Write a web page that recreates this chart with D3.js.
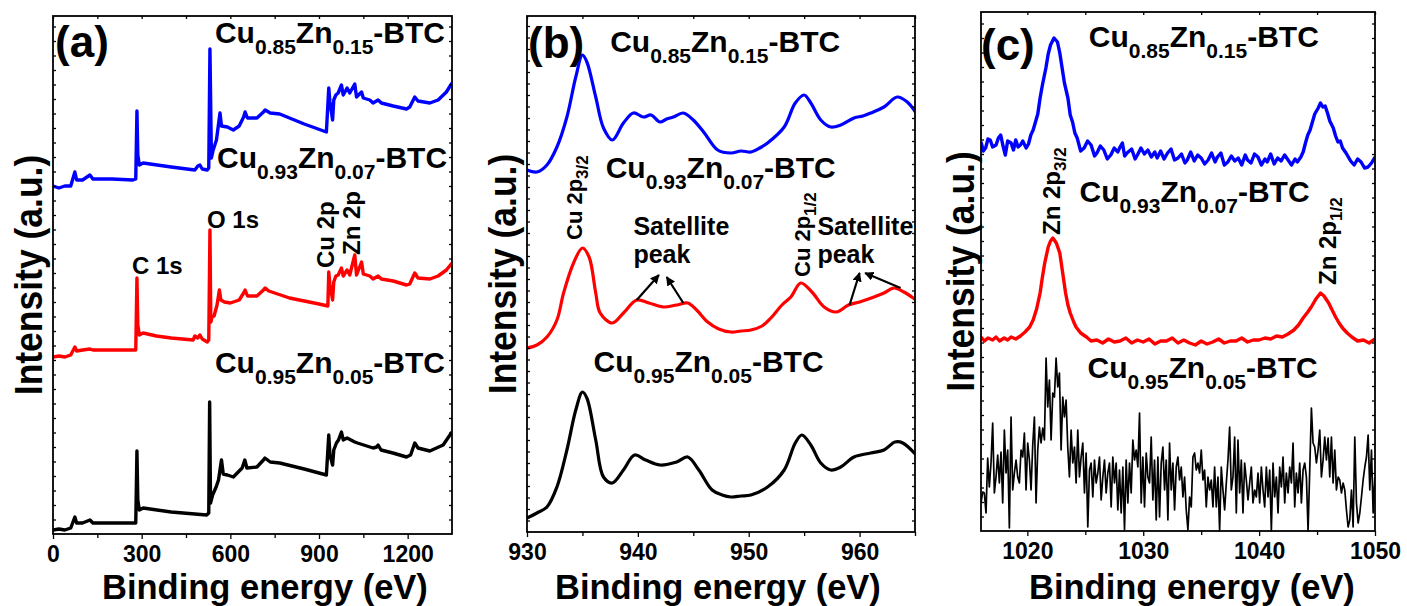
<!DOCTYPE html>
<html>
<head>
<meta charset="utf-8">
<script src="https://cdn.jsdelivr.net/npm/d3@7"></script>
<style>
  body { margin: 0; background: #fff; }
  svg text { font-family: "Liberation Sans", Arial, Helvetica, sans-serif; font-weight: bold; fill: #000; }
</style>
</head>
<body>
<svg id="fig" width="1407" height="606"></svg>
<script>
// ---------------- sample compositions ----------------
const cuFractions = ["0.85", "0.93", "0.95"];
const znFractions = ["0.15", "0.07", "0.05"];
const seriesColors = ["#0000ff", "#ff0000", "#000000"];

// ---------------- (a) survey spectra: [binding energy eV, intensity a.u.] ----------------
const surveyCu085 = [[0,348],[20,346],[40,348],[60,348],[74,362],[80,354],[100,354],[125,359],[135,355],[200,355],[270,354],[280,355],[284,423],[287,379],[292,369],[305,371],[400,367],[480,364],[490,368],[497,369],[505,365],[522,364],[527,366],[531,485],[536,376],[542,384],[553,394],[565,421],[570,408],[590,407],[610,404],[630,408],[645,417],[650,422],[658,416],[690,416],[712,422],[718,424],[735,421],[767,420],[850,410],[925,402],[933,446],[937,432],[946,414],[950,434],[957,439],[965,441],[976,449],[982,439],[995,446],[1004,441],[1021,450],[1027,437],[1044,442],[1050,436],[1072,434],[1083,431],[1100,434],[1111,431],[1151,428],[1196,425],[1207,427],[1224,437],[1235,433],[1275,431],[1303,434],[1331,442],[1350,451]];
const surveyCu093 = [[0,177],[20,178],[40,177],[60,179],[74,187],[80,183],[100,184],[125,185],[135,184],[200,184],[270,184],[280,184],[284,256],[287,209],[292,199],[305,201],[350,198],[400,196],[474,194],[480,198],[490,196],[497,199],[505,195],[522,192],[527,194],[531,304],[534,212],[538,217],[545,218],[555,229],[563,244],[568,234],[580,232],[600,231],[630,234],[645,241],[650,244],[658,238],[690,238],[712,244],[718,246],[730,243],[760,240],[800,236],[850,233],[900,230],[930,228],[933,262],[937,249],[946,234],[950,252],[957,258],[965,259],[976,266],[982,258],[995,264],[1004,259],[1021,279],[1027,259],[1044,272],[1050,260],[1072,258],[1083,255],[1100,258],[1111,255],[1151,253],[1196,249],[1207,250],[1224,261],[1235,256],[1275,255],[1303,258],[1331,264],[1350,271]];
const surveyCu095 = [[0,4],[20,5],[40,4],[60,6],[74,17],[80,11],[100,11],[125,14],[135,11],[200,11],[270,11],[280,11],[284,83],[287,34],[292,24],[305,26],[400,22],[480,20],[520,19],[527,21],[530,132],[533,31],[540,39],[552,47],[560,54],[570,74],[576,60],[590,59],[610,57],[640,66],[649,74],[656,66],[690,67],[712,74],[717,76],[735,72],[767,71],[850,65],[925,59],[933,99],[937,79],[946,69],[950,84],[959,91],[966,94],[976,102],[982,94],[995,96],[1021,92],[1030,91],[1083,86],[1095,87],[1100,89],[1110,84],[1150,81],[1196,77],[1210,79],[1224,91],[1235,86],[1275,83],[1320,89],[1350,102]];

// ---------------- (b) Cu 2p spectra ----------------
const cu2pCu085 = [[930.0,362],[930.9,360],[931.8,367],[932.7,385],[933.6,415],[934.4,455],[935.0,477],[935.4,470],[936.2,435],[936.9,404],[937.7,392],[938.7,409],[939.6,419],[940.5,415],[941.2,417],[942.0,410],[942.6,413],[943.2,415],[944.1,419],[945.0,412],[946.0,399],[947.2,382],[948.4,379],[949.3,381],[950.2,380],[951.0,384],[951.7,389],[953.2,405],[954.2,429],[955.0,437],[955.6,429],[956.5,412],[957.4,405],[958.3,407],[959.5,414],[960.3,416],[961.0,419],[962.2,425],[963.4,435],[964.3,430],[965.1,419]];
const cu2pCu093 = [[930.0,184],[930.9,187],[931.8,195],[932.7,212],[933.3,239],[934.2,269],[935.0,284],[935.6,275],[936.2,239],[936.6,219],[937.7,209],[938.7,219],[939.9,232],[941.0,229],[942.3,225],[943.5,227],[944.5,229],[945.3,222],[946.3,210],[947.3,203],[948.4,200],[949.3,201],[950.2,202],[951.2,206],[952.0,214],[953.0,227],[953.8,235],[954.7,249],[955.7,240],[956.8,225],[957.9,220],[959.0,227],[960.0,230],[961.3,235],[962.2,239],[963.1,244],[964.0,240],[965.1,232]];
const cu2pCu095 = [[930.0,14],[930.9,19],[931.8,25],[932.7,45],[933.6,82],[934.4,122],[935.0,140],[935.4,134],[936.2,92],[936.9,55],[937.7,49],[938.7,62],[939.7,77],[940.7,72],[942.0,67],[943.5,70],[944.5,75],[945.5,62],[946.7,42],[947.6,37],[948.4,35],[949.3,36],[950.2,37],[951.7,45],[953.2,62],[954.2,89],[954.8,97],[955.6,87],[956.5,69],[957.4,62],[958.3,65],[959.5,75],[961.0,79],[962.2,82],[963.2,90],[963.9,89],[965.1,77]];

// ---------------- (c) Zn 2p spectra ----------------
const zn2pCu085 = [[1016.0,389],[1016.2,380],[1016.4,383],[1016.6,392],[1016.8,391],[1017.0,384],[1017.3,386],[1017.5,393],[1017.7,396],[1017.9,385],[1018.1,376],[1018.3,390],[1018.6,388],[1018.8,381],[1019.0,391],[1019.2,384],[1019.4,386],[1019.6,390],[1019.9,383],[1020.1,387],[1020.3,396],[1020.5,401],[1020.7,409],[1020.9,417],[1021.1,433],[1021.3,446],[1021.6,463],[1021.8,477],[1022.0,486],[1022.3,493],[1022.6,489],[1022.8,478],[1023.0,463],[1023.2,448],[1023.5,433],[1023.7,416],[1023.9,409],[1024.1,398],[1024.3,393],[1024.6,380],[1024.9,383],[1025.2,390],[1025.5,386],[1025.8,375],[1026.0,378],[1026.3,385],[1026.6,381],[1026.9,372],[1027.2,376],[1027.5,383],[1027.8,379],[1028.0,384],[1028.2,388],[1028.4,375],[1028.6,378],[1029.0,382],[1029.3,372],[1029.5,376],[1029.8,383],[1030.1,377],[1030.4,381],[1030.7,374],[1031.0,379],[1031.2,373],[1031.5,380],[1031.8,372],[1032.1,378],[1032.4,382],[1032.7,371],[1033.0,373],[1033.3,377],[1033.6,368],[1033.8,371],[1034.1,379],[1034.4,370],[1034.7,376],[1035.0,373],[1035.3,367],[1035.6,371],[1035.9,378],[1036.2,369],[1036.4,374],[1036.7,378],[1037.0,366],[1037.3,369],[1037.6,375],[1037.9,370],[1038.2,373],[1038.5,366],[1038.8,376],[1039.0,371],[1039.3,368],[1039.6,377],[1039.9,374],[1040.2,366],[1040.5,372],[1040.7,369],[1041.0,377],[1041.3,367],[1041.6,373],[1041.9,370],[1042.2,376],[1042.5,371],[1042.8,366],[1043.1,372],[1043.3,369],[1043.6,374],[1043.8,379],[1044.0,388],[1044.2,396],[1044.4,401],[1044.6,409],[1044.8,417],[1045.1,423],[1045.3,428],[1045.5,424],[1045.7,425],[1045.9,418],[1046.1,410],[1046.4,403],[1046.6,395],[1046.8,389],[1047.0,390],[1047.2,383],[1047.5,378],[1047.7,374],[1047.9,370],[1048.2,366],[1048.5,372],[1048.8,369],[1049.1,363],[1049.4,364],[1049.7,368],[1050.0,374]];
const zn2pCu093 = [[1016.0,194],[1016.3,190],[1016.6,193],[1017.0,191],[1017.3,194],[1017.6,190],[1018.0,193],[1018.3,191],[1018.6,194],[1019.0,192],[1019.4,195],[1019.8,199],[1020.2,204],[1020.5,211],[1020.8,222],[1021.1,238],[1021.3,254],[1021.5,268],[1021.8,284],[1022.0,290],[1022.2,293],[1022.5,288],[1022.8,278],[1023.0,262],[1023.3,238],[1023.5,226],[1023.7,218],[1024.0,209],[1024.2,204],[1024.6,198],[1025.1,194],[1025.5,190],[1026.0,191],[1026.5,188],[1027.0,192],[1027.5,189],[1028.0,190],[1028.5,193],[1029.0,188],[1029.5,191],[1030.0,189],[1030.5,192],[1031.0,187],[1031.5,190],[1032.0,190],[1032.5,193],[1033.0,188],[1033.5,191],[1034.0,188],[1034.5,186],[1035.0,190],[1035.5,187],[1036.0,189],[1036.5,192],[1037.0,188],[1037.5,190],[1038.0,190],[1038.5,193],[1039.0,189],[1039.5,191],[1040.0,191],[1040.5,193],[1041.0,192],[1041.5,195],[1042.0,194],[1042.5,197],[1043.0,201],[1043.4,206],[1043.8,213],[1044.2,219],[1044.5,224],[1044.9,232],[1045.3,238],[1045.6,235],[1046.0,228],[1046.3,221],[1046.6,214],[1046.9,208],[1047.2,203],[1047.6,198],[1048.0,194],[1048.5,190],[1049.0,191],[1049.5,188],[1050.0,192]];
// low-Zn sample: raw counts on the acquisition grid (start energy, step)
const zn2pCu095Start = 1016.0;
const zn2pCu095Step = 0.144;
const zn2pCu095Counts = [28,39,38,18,73,44,68,108,38,54,76,48,79,28,101,58,81,3,114,41,58,71,54,48,81,74,98,41,88,71,41,86,114,28,81,104,88,103,91,173,124,151,91,138,134,173,144,158,81,134,114,131,84,54,101,68,84,48,101,54,74,88,38,78,4,61,68,34,71,48,58,74,31,54,71,38,58,68,24,74,48,68,21,61,18,64,1,71,28,68,38,91,71,81,64,118,28,74,24,78,54,48,94,31,71,11,74,14,68,84,41,71,11,88,41,68,21,64,74,
  51,64,34,54,21,1,34,24,74,78,61,68,58,81,51,61,24,54,41,51,24,64,24,54,0,64,41,21,48,71,104,41,54,94,18,91,38,71,18,68,51,31,48,64,28,41,34,58,28,64,41,24,64,34,61,0,68,34,54,18,64,44,74,28,58,38,64,48,88,24,58,38,68,28,61,68,54,0,61,123,88,84,68,81,101,54,71,94,71,93,54,94,48,81,41,54,51,38,48,41,21,4,11,41,4,94,28,8,18,34,51,64,74,96,41,81,18,54];
const zn2pCu095 = zn2pCu095Counts.map((c, i) => [zn2pCu095Start + i * zn2pCu095Step, c]);

// ---------------- tick labels ----------------
const surveyTicks = [0, 300, 600, 900, 1200];
const cu2pTicks = [930, 940, 950, 960];
const zn2pTicks = [1020, 1030, 1040, 1050];

// ---------------- layout ----------------
const svg = d3.select("#fig");
const W = 1407, H = 606;
svg.append("rect").attr("width", W).attr("height", H).attr("fill", "#fff");

const panels = [
  {
    key: "a", box: {left: 53, top: 16, right: 452, bottom: 534},
    xDomain: [0, 1350], xTicks: surveyTicks, xMinor: d3.range(150, 1350, 300), yMax: 518, yStep: 14.5,
    series: [surveyCu085, surveyCu093, surveyCu095], width: 3.4, curve: d3.curveLinear,
    tag: [7, 477],
    names: [[548, 491], [555, 366], [548, 161]],
    xTitle: 102, yTitle: 42,
  },
  {
    key: "b", box: {left: 527, top: 16, right: 915, bottom: 532},
    xDomain: [930, 965], xTicks: cu2pTicks, xMinor: [935, 945, 955, 965], yMax: 516, yStep: 11.5,
    series: [cu2pCu085, cu2pCu093, cu2pCu095], width: 3.2, curve: d3.curveCatmullRom.alpha(0.5),
    tag: [930.1, 474],
    names: [[937.5, 480], [937.1, 354], [936.0, 160]],
    xTitle: 555, yTitle: 516,
  },
  {
    key: "c", box: {left: 981, top: 12, right: 1375, bottom: 531},
    xDomain: [1016, 1050], xTicks: zn2pTicks, xMinor: [1025, 1035, 1045], yMax: 519, yStep: 14.5,
    series: [zn2pCu085, zn2pCu093, zn2pCu095], width: 3.4, thinLast: 1.7, curve: d3.curveLinear,
    tag: [1016, 471],
    names: [[1025.3, 484], [1024.5, 329], [1025.2, 153]],
    xTitle: 1029, yTitle: 974,
  },
];

// text with subscripted runs: parts = [[text, isSub], ...]
function richText(g, parts, size, subSize, shift) {
  const t = g.append("text").attr("font-size", size);
  let offset = 0;
  parts.forEach(([s, sub]) => {
    const target = sub ? shift : 0;
    t.append("tspan").text(s)
      .attr("font-size", sub ? subSize : size)
      .attr("dy", target - offset);
    offset = target;
  });
  return t;
}

panels.forEach((p) => {
  const b = p.box;
  const g = svg.append("g").attr("class", "panel-" + p.key);
  const x = d3.scaleLinear().domain(p.xDomain).range([b.left, b.right]);
  const y = d3.scaleLinear().domain([0, p.yMax]).range([b.bottom, b.top]);
  p.x = x; p.y = y; p.g = g;

  const clipId = "clip-" + p.key;
  svg.append("clipPath").attr("id", clipId).append("rect")
    .attr("x", b.left).attr("y", b.top - 2).attr("width", b.right - b.left).attr("height", b.bottom - b.top + 4);

  // spectra
  const line = d3.line().curve(p.curve).x(d => x(d[0])).y(d => y(d[1]));
  p.series.forEach((data, si) => {
    g.append("path").datum(data)
      .attr("clip-path", `url(#${clipId})`)
      .attr("fill", "none")
      .attr("stroke", seriesColors[si])
      .attr("stroke-width", (si === 2 && p.thinLast) ? p.thinLast : p.width)
      .attr("stroke-linejoin", "round")
      .attr("d", line);
  });

  // bottom axis: labelled majors, unlabelled minors
  const axB = g.append("g").attr("transform", `translate(0,${b.bottom})`)
    .call(d3.axisBottom(x).tickValues(p.xTicks).tickSize(5).tickPadding(7).tickFormat(d3.format("d")));
  axB.selectAll("text").attr("font-size", 23).attr("font-family", null);
  g.append("g").attr("transform", `translate(0,${b.bottom})`)
    .call(d3.axisBottom(x).tickValues(p.xMinor).tickSize(4).tickFormat(""));
  // top axis, inward ticks
  g.append("g").attr("transform", `translate(0,${b.top})`)
    .call(d3.axisTop(x).tickValues(p.xTicks.concat(p.xMinor)).tickSize(-3).tickFormat(""));

  // y axes: unlabelled inward ticks on both sides
  const yTicks = d3.range(p.yStep, p.yMax, p.yStep);
  g.append("g").attr("transform", `translate(${b.left},0)`)
    .call(d3.axisLeft(y).tickValues(yTicks).tickSize(-3).tickFormat(""));
  g.append("g").attr("transform", `translate(${b.right},0)`)
    .call(d3.axisRight(y).tickValues(yTicks).tickSize(-3).tickFormat(""));
  g.selectAll(".domain").remove();
  g.selectAll(".tick line").attr("stroke", "#000").attr("stroke-width", 1.3);

  // frame
  g.append("rect").attr("x", b.left).attr("y", b.top)
    .attr("width", b.right - b.left).attr("height", b.bottom - b.top)
    .attr("fill", "none").attr("stroke", "#000").attr("stroke-width", 1.8);

  // panel tag
  g.append("text").attr("x", x(p.tag[0])).attr("y", y(p.tag[1]))
    .attr("font-size", 44).text(`(${p.key})`);

  // sample names
  p.names.forEach((pos, si) => {
    richText(g, [["Cu", false], [cuFractions[si], true], ["Zn", false], [znFractions[si], true], ["-BTC", false]], 30, 21, 11)
      .attr("x", x(pos[0])).attr("y", y(pos[1]));
  });

  // axis titles
  g.append("text").attr("x", p.xTitle).attr("y", 599).attr("font-size", 34.5).text("Binding energy (eV)");
  g.append("text")
    .attr("transform", `translate(${p.yTitle},${(b.top + b.bottom) / 2}) rotate(-90) scale(0.91,1)`)
    .attr("text-anchor", "middle").attr("font-size", 39).text("Intensity (a.u.)");
});

// ---------------- peak annotations ----------------
function vLabel(p, e, v, parts, size, subSize, shift) {
  richText(p.g, parts, size, subSize, shift)
    .attr("transform", `translate(${p.x(e)},${p.y(v)}) rotate(-90)`);
}
function hLabel(p, e, v, s, size) {
  p.g.append("text").attr("x", p.x(e)).attr("y", p.y(v)).attr("font-size", size).text(s);
}

const [pa, pb, pc] = panels;
hLabel(pa, 267, 260, "C 1s", 24);
hLabel(pa, 521, 306, "O 1s", 24);
vLabel(pa, 950, 266, [["Cu 2p", false]], 24, 17, 6);
vLabel(pa, 1038, 279, [["Zn 2p", false]], 24, 17, 6);

vLabel(pb, 935.0, 292, [["Cu 2p", false], ["3/2", true]], 22, 17, 6);
vLabel(pb, 955.5, 255, [["Cu 2p", false], ["1/2", true]], 22, 17, 6);
hLabel(pb, 939.6, 297, "Satellite", 25);
hLabel(pb, 939.6, 269, "peak", 25);
hLabel(pb, 956.2, 297, "Satellite", 25);
hLabel(pb, 956.2, 269, "peak", 25);

vLabel(pc, 1022.8, 296, [["Zn 2p", false], ["3/2", true]], 24, 17, 6);
vLabel(pc, 1046.6, 246, [["Zn 2p", false], ["1/2", true]], 24, 17, 6);

// satellite arrows: [tail eV, tail a.u., head eV, head a.u.]
const satelliteArrows = [
  [939.9, 232, 941.9, 257],
  [944.1, 229, 942.6, 255],
  [959.1, 227, 960.0, 259],
  [963.7, 244, 960.5, 259],
];
svg.append("defs").append("marker")
  .attr("id", "arrowhead").attr("viewBox", "0 0 10 10").attr("refX", 9).attr("refY", 5)
  .attr("markerWidth", 4.2).attr("markerHeight", 4.2).attr("orient", "auto")
  .append("path").attr("d", "M0,0 L10,5 L0,10 Z").attr("fill", "#000");
pb.g.selectAll("line.arrow").data(satelliteArrows).join("line")
  .attr("class", "arrow")
  .attr("x1", d => pb.x(d[0])).attr("y1", d => pb.y(d[1]))
  .attr("x2", d => pb.x(d[2])).attr("y2", d => pb.y(d[3]))
  .attr("stroke", "#000").attr("stroke-width", 2.2)
  .attr("marker-end", "url(#arrowhead)");
</script>
</body>
</html>
